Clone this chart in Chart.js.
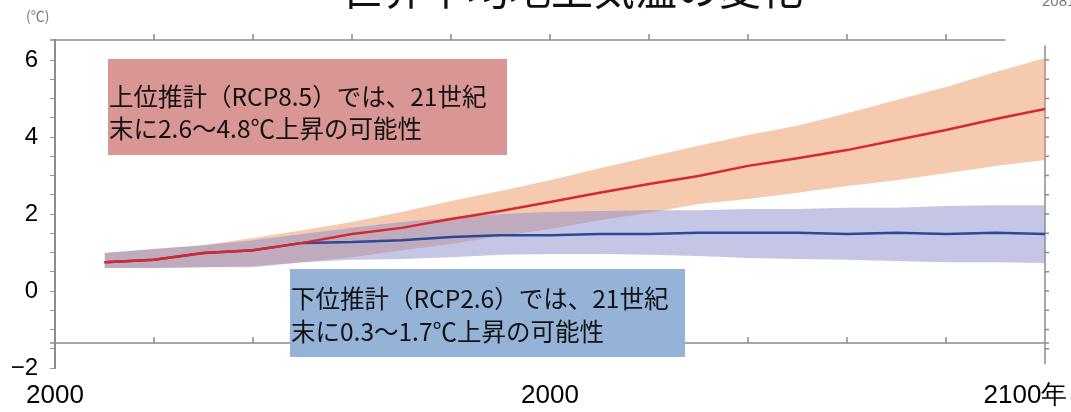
<!DOCTYPE html>
<html lang="ja">
<head>
<meta charset="utf-8">
<script src="https://cdn.jsdelivr.net/npm/chart.js@4.4.1/dist/chart.umd.min.js"></script>
<style>
  html, body { margin: 0; padding: 0; background: #fff; }
  #chart { display: block; }
</style>
</head>
<body>
<canvas id="chart" width="1071" height="412"></canvas>
<script>
// 年（5年ごと）
const years = [2005, 2010, 2015, 2020, 2025, 2030, 2035, 2040, 2045, 2050,
               2055, 2060, 2065, 2070, 2075, 2080, 2085, 2090, 2095, 2100];

// RCP8.5（上位推計）
const rcp85Mean  = [0.75, 0.81, 0.99, 1.06, 1.25, 1.48, 1.64, 1.87, 2.08, 2.31,
                    2.55, 2.78, 2.99, 3.25, 3.45, 3.66, 3.92, 4.18, 4.47, 4.73];
const rcp85Upper = [0.99, 1.09, 1.19, 1.38, 1.58, 1.79, 2.05, 2.34, 2.60, 2.88,
                    3.19, 3.48, 3.77, 4.05, 4.29, 4.62, 4.96, 5.30, 5.69, 6.05];
const rcp85Lower = [0.60, 0.60, 0.62, 0.65, 0.75, 0.88, 1.06, 1.22, 1.43, 1.61,
                    1.84, 2.03, 2.26, 2.39, 2.55, 2.73, 2.88, 3.06, 3.25, 3.40];

// RCP2.6（下位推計）
const rcp26Mean  = [0.75, 0.81, 0.99, 1.06, 1.25, 1.27, 1.32, 1.40, 1.45, 1.45,
                    1.48, 1.48, 1.51, 1.51, 1.51, 1.48, 1.51, 1.48, 1.51, 1.48];
const rcp26Upper = [0.99, 1.09, 1.19, 1.32, 1.48, 1.64, 1.79, 1.90, 2.00, 2.05,
                    2.08, 2.10, 2.10, 2.13, 2.13, 2.16, 2.16, 2.21, 2.23, 2.23];
const rcp26Lower = [0.60, 0.60, 0.62, 0.62, 0.75, 0.81, 0.83, 0.88, 0.94, 0.96,
                    0.96, 0.94, 0.91, 0.86, 0.83, 0.81, 0.78, 0.75, 0.75, 0.73];

// 軸ラベル
const yTickValues = [-2, 0, 2, 4, 6];
const yTickLabels = ['\u22122', '0', '2', '4', '6'];
const xTickValues = [2000, 2050, 2100];
const xTickLabels = ['2000', '2000', '2100年\u3000\u2002'];

const titleText = '世界平均地上気温の変化';
const notes = [
    { lines: ['上位推計（RCP8.5）では、21世紀', '末に2.6～4.8℃上昇の可能性'],
      color: '#d99694', box: [108, 59, 399, 96], text: [109, 97, 129] },
    { lines: ['下位推計（RCP2.6）では、21世紀', '末に0.3～1.7℃上昇の可能性'],
      color: '#95b3d7', box: [290, 269, 395, 88], text: [291, 299, 332] }
];

const pts = arr => arr.map((v, i) => ({ x: years[i], y: v }));
const JP = '"Noto Sans CJK JP", "Noto Sans", sans-serif';
const NUM = '"Liberation Sans", Arial, sans-serif';

// 枠線・注記・タイトル
const decor = {
    id: 'decor',
    beforeDatasetsDraw(chart) {
        const { ctx, scales: { x, y } } = chart;
        ctx.save();
        ctx.strokeStyle = '#8c8c8c';
        ctx.lineWidth = 1.5;
        const yTop = y.getPixelForValue(6.52);
        const yBot = y.getPixelForValue(-1.35);
        const xR = x.getPixelForValue(2100);
        ctx.beginPath();
        ctx.moveTo(x.left - 5, yTop); ctx.lineTo(x.getPixelForValue(2096), yTop);
        ctx.moveTo(x.left - 5, yBot); ctx.lineTo(xR + 4, yBot);
        ctx.moveTo(xR, y.getPixelForValue(6.38)); ctx.lineTo(xR, y.getPixelForValue(-1.9));
        for (let yr = 2010; yr <= 2090; yr += 10) {
            const px = x.getPixelForValue(yr);
            ctx.moveTo(px, yTop); ctx.lineTo(px, yTop - 6);
            ctx.moveTo(px, yBot); ctx.lineTo(px, yBot - 6);
        }
        for (let v = -1.5; v <= 6; v += 0.5) {
            const py = y.getPixelForValue(v);
            ctx.moveTo(xR, py); ctx.lineTo(xR + 4, py);
        }
        ctx.stroke();
        ctx.restore();
    },
    afterDatasetsDraw(chart) {
        const { ctx } = chart;
        ctx.save();
        notes.forEach(n => {
            ctx.fillStyle = n.color;
            ctx.fillRect(n.box[0], n.box[1], n.box[2], n.box[3]);
            ctx.fillStyle = '#111';
            ctx.font = '24.5px ' + JP;
            ctx.textBaseline = 'middle';
            ctx.textAlign = 'left';
            ctx.fillText(n.lines[0], n.text[0], n.text[1]);
            ctx.fillText(n.lines[1], n.text[0], n.text[2]);
        });
        // タイトル（上端で切れている）
        ctx.fillStyle = '#111';
        ctx.textAlign = 'center';
        ctx.textBaseline = 'alphabetic';
        ctx.font = '42px ' + JP;
        ctx.fillText(titleText, 572, 5);
        ctx.fillStyle = '#777';
        ctx.textAlign = 'left';
        ctx.font = '14px ' + JP;
        ctx.fillText('(℃)', 26, 21);
        ctx.font = '15px ' + NUM;
        ctx.fillText('2081-2100', 1042, 6);
        ctx.restore();
    }
};

new Chart(document.getElementById('chart'), {
    type: 'line',
    data: {
        datasets: [
            { label: 'RCP8.5', data: pts(rcp85Mean), borderColor: '#d62a2a', borderWidth: 2.5,
              pointRadius: 0, fill: false, tension: 0 },
            { label: 'RCP2.6', data: pts(rcp26Mean), borderColor: '#2b4a96', borderWidth: 2.5,
              pointRadius: 0, fill: false, tension: 0 },
            { label: 'RCP2.6 上限', data: pts(rcp26Upper), borderWidth: 0, pointRadius: 0,
              backgroundColor: 'rgba(140, 140, 205, 0.5)', fill: '+1' },
            { label: 'RCP2.6 下限', data: pts(rcp26Lower), borderWidth: 0, pointRadius: 0, fill: false },
            { label: 'RCP8.5 上限', data: pts(rcp85Upper), borderWidth: 0, pointRadius: 0,
              backgroundColor: 'rgba(235, 150, 95, 0.5)', fill: '+1' },
            { label: 'RCP8.5 下限', data: pts(rcp85Lower), borderWidth: 0, pointRadius: 0, fill: false }
        ]
    },
    options: {
        responsive: false,
        animation: false,
        layout: { padding: { top: 40, right: 26, left: 0, bottom: 0 } },
        plugins: { legend: { display: false }, tooltip: { enabled: false } },
        scales: {
            x: {
                type: 'linear', min: 2000, max: 2100,
                afterFit: s => { s.height = 44; s.paddingLeft = 0; s.paddingRight = 0; },
                afterBuildTicks: s => { s.ticks = xTickValues.map(v => ({ value: v })); },
                grid: { display: false, drawTicks: false },
                border: { display: false },
                ticks: {
                    autoSkip: false, maxRotation: 0, padding: 12, color: '#000',
                    font: { family: NUM, size: 26 },
                    callback: v => xTickLabels[xTickValues.indexOf(v)]
                }
            },
            y: {
                min: -2, max: 6.52,
                afterFit: s => { s.width = 55; s.paddingTop = 0; s.paddingBottom = 0; },
                afterBuildTicks: s => {
                    const t = [];
                    for (let v = -2; v <= 6; v += 0.5) t.push({ value: v });
                    s.ticks = t;
                },
                grid: { drawOnChartArea: false, drawTicks: true, tickLength: 5, color: '#999' },
                border: { display: true, color: '#8c8c8c', width: 2 },
                ticks: {
                    autoSkip: false, padding: 12, color: '#000',
                    font: { family: NUM, size: 24 },
                    callback: v => {
                        const i = yTickValues.indexOf(v);
                        return i < 0 ? '' : yTickLabels[i];
                    }
                }
            }
        }
    },
    plugins: [decor]
});
</script>
</body>
</html>
